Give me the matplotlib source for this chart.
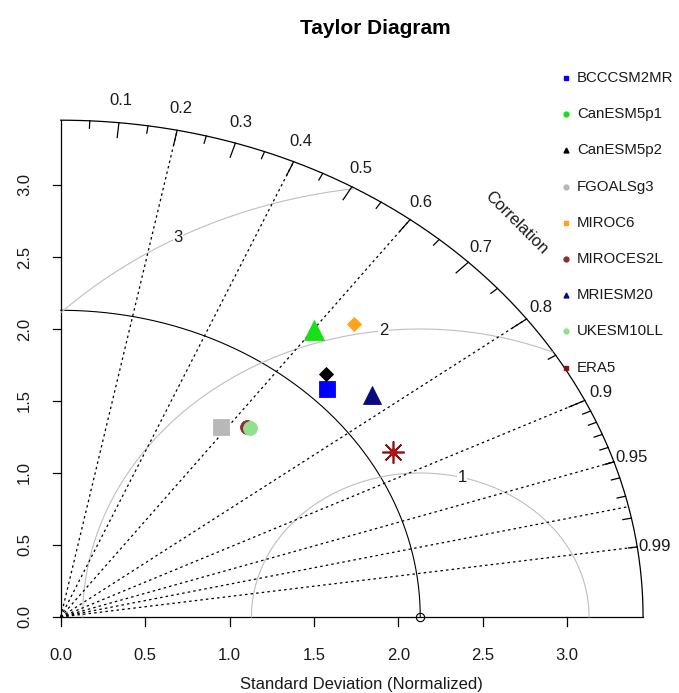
import numpy as np
import matplotlib
matplotlib.use('Agg')
import matplotlib.pyplot as plt
from matplotlib.lines import Line2D

plt.rcParams['font.family'] = ['Liberation Sans', 'DejaVu Sans']

# model statistics (normalized standard deviation and correlation with reference)
models = ['BCCCSM2MR', 'CanESM5p1', 'CanESM5p2', 'FGOALSg3', 'MIROC6',
          'MIROCES2L', 'MRIESM20', 'UKESM10LL', 'ERA5']
std_devs = [2.234, 2.492, 2.305, 1.626, 2.677, 1.720, 2.402, 1.724, 2.279]
correlations = [0.706, 0.602, 0.681, 0.583, 0.650, 0.641, 0.768, 0.650, 0.864]

colors = ['#0000FF', '#18E018', '#000000', '#B8B8B8', '#FFA31A',
          '#8B2E2E', '#0A0A80', '#90E090', '#8B1010']
markers = ['s', '^', 'D', 's', 'D', 'o', '^', 'o', None]
marker_sizes = [11.5, 14, 7, 11.5, 7, 10, 13, 10, 16]
legend_markers = ['s', 'o', '^', 'o', 's', 'o', '^', 'o', 's']

ref_sd = 2.13
max_sd = 3.45
rms_levels = [1, 2, 3]
corr_lines = [0.2, 0.4, 0.6, 0.8, 0.9, 0.95, 0.975, 0.99]
corr_labels = [0.1, 0.2, 0.3, 0.4, 0.5, 0.6, 0.7, 0.8, 0.9, 0.95, 0.99]
sd_ticks = [0.0, 0.5, 1.0, 1.5, 2.0, 2.5, 3.0]

W, H = 679, 693
sx, sy = 168.8, 144.0      # pixels per data unit
x0_px, y0_px = 60.7, 617.0  # origin position in pixels
txt = '#1a1a1a'
fs = 12

fig = plt.figure(figsize=(W / 100, H / 100), dpi=100)
ax = fig.add_axes([x0_px / W, (H - y0_px) / H, max_sd * sx / W, max_sd * sy / H])
ax.set_xlim(0, max_sd)
ax.set_ylim(0, max_sd)
ax.axis('off')

kw = dict(clip_on=False)

# outer arc and axes
th = np.linspace(0, np.pi / 2, 400)
ax.plot(max_sd * np.cos(th), max_sd * np.sin(th), color='k', lw=0.9, **kw)
ax.plot([0, 0], [0, max_sd], color='k', lw=0.9, **kw)
ax.plot([0, max_sd], [0, 0], color='k', lw=0.9, **kw)

# standard deviation ticks
for t in sd_ticks:
    ax.plot([-8 / sx, 0], [t, t], color='k', lw=0.9, **kw)
    ax.text(-36 / sx, t, f'{t:.1f}', rotation=90, ha='center', va='center',
            fontsize=fs, color=txt)
    ax.plot([t, t], [0, -9 / sy], color='k', lw=0.9, **kw)
    ax.text(t, -38 / sy, f'{t:.1f}', ha='center', va='center',
            fontsize=fs, color=txt)
ax.text(1.78, -67 / sy, 'Standard Deviation (Normalized)', ha='center',
        va='center', fontsize=fs, color=txt)

# reference standard deviation arc
ax.plot(ref_sd * np.cos(th), ref_sd * np.sin(th), color='k', lw=0.8, **kw)

# centred RMS difference contours
tg = np.linspace(0, np.pi, 800)
for g in rms_levels:
    gx = np.cos(tg) * g + ref_sd
    gy = np.sin(tg) * g
    keep = (gx >= 0) & (gx ** 2 + gy ** 2 <= max_sd ** 2)
    ax.plot(gx[keep], gy[keep], color='#BEBEBE', lw=0.8, **kw)
for g, pos in zip(rms_levels, [45, 57, 70]):
    ang = (pos - 1) * 0.03
    ax.text(np.cos(ang) * g + ref_sd, np.sin(ang) * g, str(g), ha='center',
            va='center', fontsize=fs, color=txt,
            bbox=dict(facecolor='white', edgecolor='none', pad=0.5))

# correlation rays
for c in corr_lines:
    ax.plot([0, max_sd * c], [0, max_sd * np.sqrt(1 - c ** 2)], color='k',
            lw=0.9, ls=(0, (2, 2.5)), **kw)

# correlation ticks on the outer arc
def arc_ticks(vals, inner):
    for c in vals:
        s = np.sqrt(1 - c ** 2)
        ax.plot([c * max_sd, c * inner * max_sd], [s * max_sd, s * inner * max_sd],
                color='k', lw=0.9, **kw)

arc_ticks(np.arange(0.1, 0.91, 0.1), 0.97)
arc_ticks(np.arange(0.05, 0.96, 0.1), 0.985)
arc_ticks(np.arange(0.91, 0.995, 0.01), 0.985)

for c in corr_labels:
    ax.text(c * max_sd * 1.031, np.sqrt(1 - c ** 2) * max_sd * 1.05 - 3 / sy,
            f'{c:g}', ha='center', va='center', fontsize=fs, color=txt)
ax.text(0.8 * max_sd - 0.06, 0.8 * max_sd - 0.02, 'Correlation', rotation=-45,
        rotation_mode='anchor', ha='center', va='center', fontsize=fs, color=txt)

# reference point
ax.plot(ref_sd, 0, 'o', mfc='none', mec='k', ms=6, mew=0.8, **kw)

# model points
for sd, cr, col, mk, ms in zip(std_devs, correlations, colors, markers, marker_sizes):
    px = sd * cr
    py = sd * np.sqrt(1 - cr ** 2)
    if mk is None:
        ax.plot(px, py, marker=(8, 2, 0), color=col, ms=ms, mew=1.2, ls='none', **kw)
        ax.plot(px, py, 'o', color='#B01515', ms=5, **kw)
    else:
        ax.plot(px, py, marker=mk, color=col, ms=ms, mew=0.6, ls='none', **kw)

# legend
leg_y = [78 + i * 36.2 for i in range(len(models))]
for name, col, mk, yy in zip(models, colors, legend_markers, leg_y):
    fig.add_artist(Line2D([566 / W], [1 - yy / H], transform=fig.transFigure,
                          marker=mk, color=col, ms=3.5, ls='none'))
    fig.text(577 / W, 1 - yy / H, name, ha='left', va='center',
             fontsize=10.8, color=txt)

fig.text(375 / W, 1 - 28 / H, 'Taylor Diagram', ha='center', va='center',
         fontsize=15, fontweight='bold', color='k')

fig.savefig('out.png', dpi=100)
